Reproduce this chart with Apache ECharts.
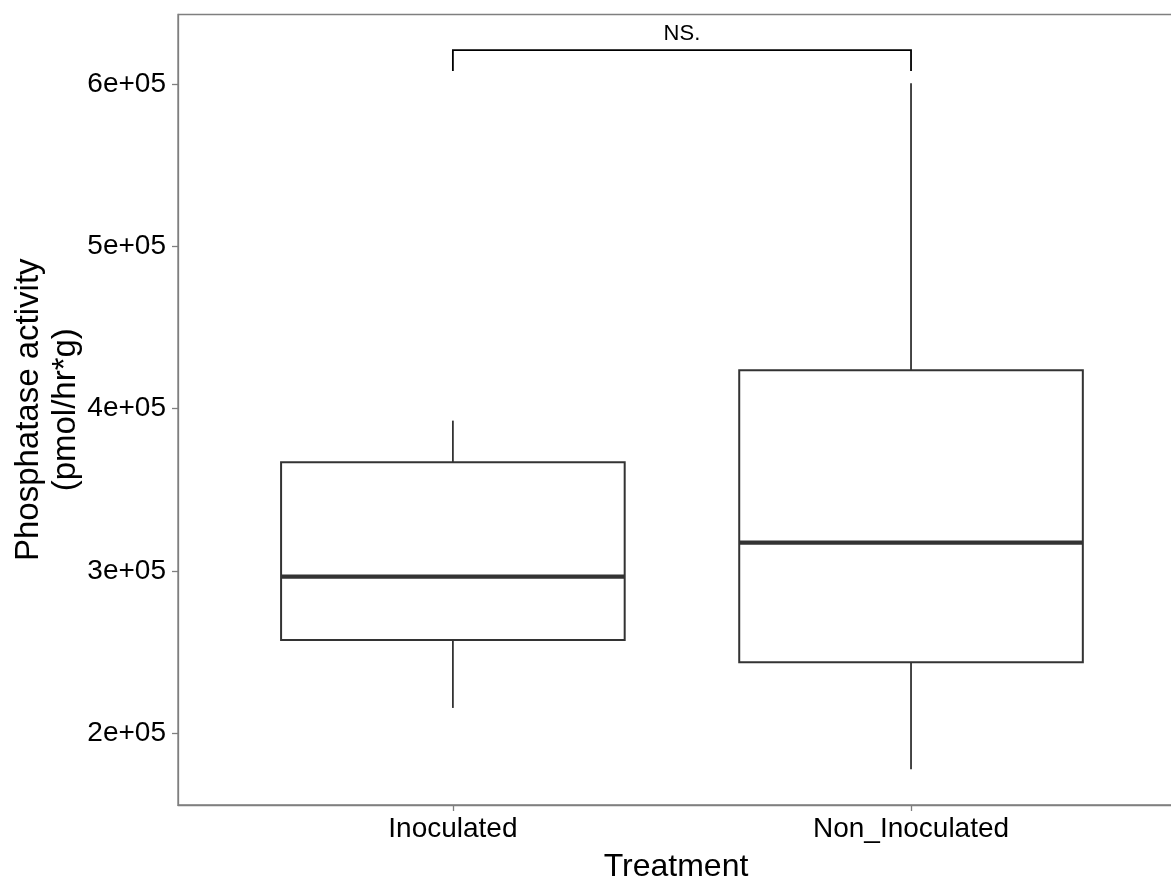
<!DOCTYPE html>
<html>
<head>
<meta charset="utf-8">
<script src="https://cdn.jsdelivr.net/npm/echarts@6/dist/echarts.min.js"></script>
<style>
html,body{margin:0;padding:0;background:#fff;}
#chart{width:1171px;height:878px;}
</style>
</head>
<body>
<div id="chart"></div>
<script>
// Data
const categories = ['Inoculated', 'Non_Inoculated'];
const whiskerLow  = [215600, 177800];
const q1          = [257500, 243700];
const medians     = [296500, 317400];
const q3          = [366900, 423600];
const whiskerHigh = [392600, 600400];
const yTicks = [200000, 300000, 400000, 500000, 600000];
const yTickLabels = ['2e+05', '3e+05', '4e+05', '5e+05', '6e+05'];
const bracket = { from: 1, to: 2, top: 620800, bottom: 608000, label: 'NS.' };

const boxData = categories.map((c, i) => [i + 1, whiskerLow[i], q1[i], medians[i], q3[i], whiskerHigh[i]]);

const FONT = '"Liberation Sans", Arial, sans-serif';
const LINE = '#333333';

const chart = echarts.init(document.getElementById('chart'), null, {renderer: 'canvas'});
chart.setOption({
  animation: false,
  backgroundColor: '#ffffff',
  grid: {
    left: 178, top: 14.5, right: -3, bottom: 73,
    containLabel: false, outerBoundsMode: 'none',
    show: true, borderColor: '#7f7f7f', borderWidth: 1.3, backgroundColor: 'transparent'
  },
  xAxis: {
    type: 'value', min: 0.4, max: 2.574,
    name: 'Treatment', nameLocation: 'middle', nameGap: 46,
    nameTextStyle: {fontFamily: FONT, fontSize: 32, color: '#000'},
    axisLine: {show: true, lineStyle: {color: '#7f7f7f', width: 1.3}},
    axisTick: {show: true, length: 6, lineStyle: {color: '#7f7f7f', width: 1.3}, customValues: [1, 2]},
    axisLabel: {
      fontFamily: FONT, fontSize: 28, color: '#000', margin: 10,
      customValues: [1, 2],
      formatter: v => categories[Math.round(v) - 1] || ''
    },
    splitLine: {show: false}
  },
  yAxis: {
    type: 'value', min: 155800, max: 642800,
    name: 'Phosphatase activity\n(pmol/hr*g)', nameLocation: 'middle', nameGap: 94, nameRotate: 90,
    nameMoveOverlap: false,
    nameTextStyle: {fontFamily: FONT, fontSize: 33, color: '#000', lineHeight: 37, align: 'center'},
    axisLine: {show: true, lineStyle: {color: '#7f7f7f', width: 1.3}},
    axisTick: {show: true, length: 6, lineStyle: {color: '#7f7f7f', width: 1.3}, customValues: yTicks},
    axisLabel: {
      fontFamily: FONT, fontSize: 28, color: '#000', margin: 12,
      customValues: yTicks,
      formatter: v => { const i = yTicks.indexOf(v); return i >= 0 ? yTickLabels[i] : ''; }
    },
    splitLine: {show: false}
  },
  series: [
    {
      type: 'custom',
      data: boxData,
      clip: false,
      renderItem: function (params, api) {
        const x = api.value(0);
        const w = api.size([0.75, 0])[0];
        const pLow = api.coord([x, api.value(1)]);
        const pQ1 = api.coord([x, api.value(2)]);
        const pMed = api.coord([x, api.value(3)]);
        const pQ3 = api.coord([x, api.value(4)]);
        const pHigh = api.coord([x, api.value(5)]);
        const cx = pQ1[0];
        return {
          type: 'group',
          children: [
            {type: 'line', shape: {x1: cx, y1: pHigh[1], x2: cx, y2: pQ3[1]}, style: {stroke: LINE, lineWidth: 1.8}},
            {type: 'line', shape: {x1: cx, y1: pQ1[1], x2: cx, y2: pLow[1]}, style: {stroke: LINE, lineWidth: 1.8}},
            {type: 'rect', shape: {x: cx - w / 2, y: pQ3[1], width: w, height: pQ1[1] - pQ3[1]},
              style: {fill: '#ffffff', stroke: LINE, lineWidth: 2}},
            {type: 'line', shape: {x1: cx - w / 2, y1: pMed[1], x2: cx + w / 2, y2: pMed[1]}, style: {stroke: LINE, lineWidth: 4.2}}
          ]
        };
      }
    },
    {
      type: 'custom',
      data: [[bracket.from, bracket.to, bracket.top, bracket.bottom]],
      clip: false,
      renderItem: function (params, api) {
        const a = api.coord([api.value(0), api.value(2)]);
        const b = api.coord([api.value(1), api.value(2)]);
        const aB = api.coord([api.value(0), api.value(3)]);
        const bB = api.coord([api.value(1), api.value(3)]);
        return {
          type: 'group',
          children: [
            {type: 'polyline', shape: {points: [[aB[0], aB[1]], [a[0], a[1]], [b[0], b[1]], [bB[0], bB[1]]]},
              style: {stroke: '#000', lineWidth: 1.8, fill: null}},
            {type: 'text', x: (a[0] + b[0]) / 2, y: a[1] - 5,
              style: {text: bracket.label, fontFamily: FONT, fontSize: 22, fill: '#000', align: 'center', verticalAlign: 'bottom'}}
          ]
        };
      }
    }
  ]
});
</script>
</body>
</html>
